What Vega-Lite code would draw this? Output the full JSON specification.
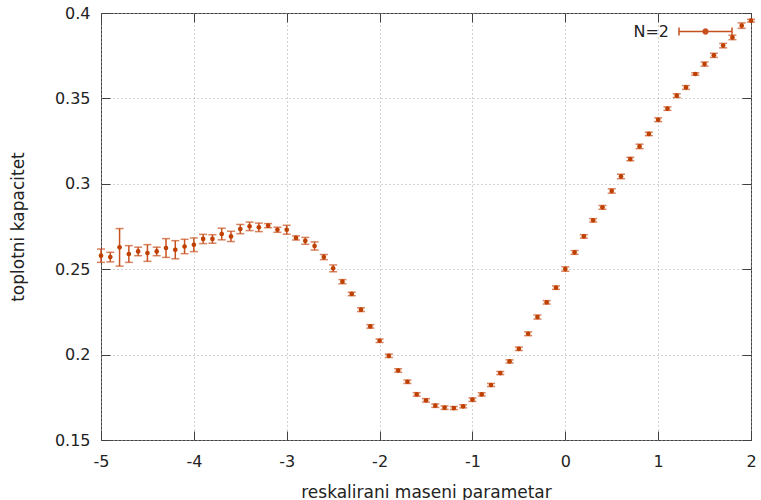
{
  "$schema": "https://vega.github.io/schema/vega-lite/v6.json",
  "width": 650,
  "height": 427,
  "autosize": {"type": "none"},
  "padding": {"left": 101, "top": 13, "right": 10, "bottom": 60},
  "background": "white",
  "config": {
    "font": "DejaVu Sans",
    "view": {"stroke": "#404040", "strokeWidth": 1},
    "axis": {
      "labelFont": "DejaVu Sans",
      "titleFont": "DejaVu Sans",
      "labelFontSize": 16,
      "titleFontSize": 17,
      "titleFontWeight": "normal",
      "labelColor": "#222",
      "titleColor": "#222",
      "domain": false,
      "tickColor": "#404040",
      "tickWidth": 1,
      "zindex": 1,
      "gridColor": "#a8a8a8",
      "gridDash": [1, 3],
      "gridWidth": 1
    }
  },
  "data": {
    "values": [
      {"x": -5.0, "y": 0.2579, "e": 0.0039},
      {"x": -4.9, "y": 0.2571, "e": 0.0028},
      {"x": -4.8, "y": 0.2628, "e": 0.0110},
      {"x": -4.7, "y": 0.2589, "e": 0.0049},
      {"x": -4.6, "y": 0.2604, "e": 0.0025},
      {"x": -4.5, "y": 0.2595, "e": 0.0049},
      {"x": -4.4, "y": 0.2604, "e": 0.0025},
      {"x": -4.3, "y": 0.2624, "e": 0.0055},
      {"x": -4.2, "y": 0.2614, "e": 0.0053},
      {"x": -4.1, "y": 0.2633, "e": 0.0042},
      {"x": -4.0, "y": 0.2643, "e": 0.0040},
      {"x": -3.9, "y": 0.2677, "e": 0.0027},
      {"x": -3.8, "y": 0.2677, "e": 0.0025},
      {"x": -3.7, "y": 0.2706, "e": 0.0034},
      {"x": -3.6, "y": 0.2692, "e": 0.0030},
      {"x": -3.5, "y": 0.2735, "e": 0.0027},
      {"x": -3.4, "y": 0.2751, "e": 0.0025},
      {"x": -3.3, "y": 0.2745, "e": 0.0025},
      {"x": -3.2, "y": 0.2755, "e": 0.0012},
      {"x": -3.1, "y": 0.2731, "e": 0.0015},
      {"x": -3.0, "y": 0.2731, "e": 0.0026},
      {"x": -2.9, "y": 0.2683, "e": 0.0012},
      {"x": -2.8, "y": 0.2666, "e": 0.0020},
      {"x": -2.7, "y": 0.2636, "e": 0.0024},
      {"x": -2.6, "y": 0.2571, "e": 0.0015},
      {"x": -2.5, "y": 0.2505, "e": 0.0020},
      {"x": -2.4, "y": 0.2427, "e": 0.0012},
      {"x": -2.3, "y": 0.2355, "e": 0.0010},
      {"x": -2.2, "y": 0.2263, "e": 0.0011},
      {"x": -2.1, "y": 0.2165, "e": 0.0010},
      {"x": -2.0, "y": 0.2081, "e": 0.0010},
      {"x": -1.9, "y": 0.1993, "e": 0.0010},
      {"x": -1.8, "y": 0.1907, "e": 0.0010},
      {"x": -1.7, "y": 0.1841, "e": 0.0010},
      {"x": -1.6, "y": 0.1767, "e": 0.0010},
      {"x": -1.5, "y": 0.1732, "e": 0.0010},
      {"x": -1.4, "y": 0.1701, "e": 0.0010},
      {"x": -1.3, "y": 0.1689, "e": 0.0010},
      {"x": -1.2, "y": 0.1687, "e": 0.0009},
      {"x": -1.1, "y": 0.1697, "e": 0.0009},
      {"x": -1.0, "y": 0.1736, "e": 0.0010},
      {"x": -0.9, "y": 0.1767, "e": 0.0009},
      {"x": -0.8, "y": 0.1822, "e": 0.0009},
      {"x": -0.7, "y": 0.1892, "e": 0.0009},
      {"x": -0.6, "y": 0.1960, "e": 0.0009},
      {"x": -0.5, "y": 0.2034, "e": 0.0010},
      {"x": -0.4, "y": 0.2122, "e": 0.0011},
      {"x": -0.3, "y": 0.2220, "e": 0.0012},
      {"x": -0.2, "y": 0.2306, "e": 0.0010},
      {"x": -0.1, "y": 0.2392, "e": 0.0010},
      {"x": 0.0, "y": 0.2501, "e": 0.0013},
      {"x": 0.1, "y": 0.2598, "e": 0.0011},
      {"x": 0.2, "y": 0.2692, "e": 0.0010},
      {"x": 0.3, "y": 0.2786, "e": 0.0010},
      {"x": 0.4, "y": 0.2862, "e": 0.0011},
      {"x": 0.5, "y": 0.2958, "e": 0.0013},
      {"x": 0.6, "y": 0.3043, "e": 0.0013},
      {"x": 0.7, "y": 0.3145, "e": 0.0010},
      {"x": 0.8, "y": 0.3219, "e": 0.0013},
      {"x": 0.9, "y": 0.3292, "e": 0.0010},
      {"x": 1.0, "y": 0.3375, "e": 0.0011},
      {"x": 1.1, "y": 0.3440, "e": 0.0010},
      {"x": 1.2, "y": 0.3516, "e": 0.0011},
      {"x": 1.3, "y": 0.3564, "e": 0.0011},
      {"x": 1.4, "y": 0.3643, "e": 0.0007},
      {"x": 1.5, "y": 0.3701, "e": 0.0012},
      {"x": 1.6, "y": 0.3752, "e": 0.0012},
      {"x": 1.7, "y": 0.3809, "e": 0.0013},
      {"x": 1.8, "y": 0.3857, "e": 0.0013},
      {"x": 1.9, "y": 0.3926, "e": 0.0016},
      {"x": 2.0, "y": 0.3955, "e": 0.0008}
    ]
  },
  "layer": [
    {
      "mark": {"type": "errorbar", "ticks": true, "size": 8, "thickness": 1.5},
      "encoding": {
        "x": {
          "field": "x", "type": "quantitative",
          "scale": {"domain": [-5, 2], "nice": false, "zero": false},
          "axis": {"orient": "bottom", "values": [-5, -4, -3, -2, -1, 0, 1, 2], "labelExpr": "'' + datum.value", "title": "reskalirani maseni parametar", "ticks": false, "labelPadding": 13, "titlePadding": 15, "grid": true, "labelFlush": false}
        },
        "y": {
          "field": "y", "type": "quantitative",
          "scale": {"domain": [0.15, 0.4], "nice": false, "zero": false},
          "axis": {"orient": "left", "values": [0.15, 0.2, 0.25, 0.3, 0.35, 0.4], "labelExpr": "'' + datum.value", "title": "toplotni kapacitet", "ticks": false, "labelPadding": 11, "titlePadding": 27, "grid": true, "labelFlush": false}
        },
        "yError": {"field": "e"},
        "color": {
          "datum": "N=2", "type": "nominal",
          "scale": {"range": ["#c8501e"]},
          "legend": {
            "orient": "none", "legendX": 577, "legendY": -9, "padding": 0,
            "title": null,
            "symbolType": "M-1,0H1M-1,-0.15V0.15M1,-0.15V0.15M-0.09,0A0.09,0.09 0 1,0 0.09,0A0.09,0.09 0 1,0 -0.09,0",
            "symbolSize": 2809,
            "symbolStrokeWidth": 1.5,
            "symbolStrokeColor": "#c8501e",
            "symbolFillColor": "#c04000",
            "symbolOpacity": 1,
            "labelFont": "DejaVu Sans",
            "labelFontSize": 16,
            "labelColor": "#222",
            "labelAlign": "right",
            "labelOffset": -64
          }
        }
      }
    },
    {
      "mark": {"type": "point", "filled": true, "size": 22, "color": "#c04000", "opacity": 1},
      "encoding": {
        "x": {"field": "x", "type": "quantitative", "axis": {"orient": "top", "values": [-5, -4, -3, -2, -1, 0, 1, 2], "labels": false, "title": null, "grid": false, "ticks": true, "tickSize": 9, "offset": -9}},
        "y": {"field": "y", "type": "quantitative", "axis": {"orient": "right", "values": [0.15, 0.2, 0.25, 0.3, 0.35, 0.4], "labels": false, "title": null, "grid": false, "ticks": true, "tickSize": 9, "offset": -9}}
      }
    },
    {
      "mark": {"type": "point", "filled": true, "size": 22, "color": "#c04000", "opacity": 0},
      "encoding": {
        "x": {"field": "x", "type": "quantitative", "axis": {"orient": "bottom", "values": [-5, -4, -3, -2, -1, 0, 1, 2], "labels": false, "title": null, "grid": false, "ticks": true, "tickSize": 9, "offset": -9}},
        "y": {"field": "y", "type": "quantitative", "axis": {"orient": "left", "values": [0.15, 0.2, 0.25, 0.3, 0.35, 0.4], "labels": false, "title": null, "grid": false, "ticks": true, "tickSize": 9, "offset": -9}}
      }
    }
  ],
  "resolve": {"axis": {"x": "independent", "y": "independent"}}
}
